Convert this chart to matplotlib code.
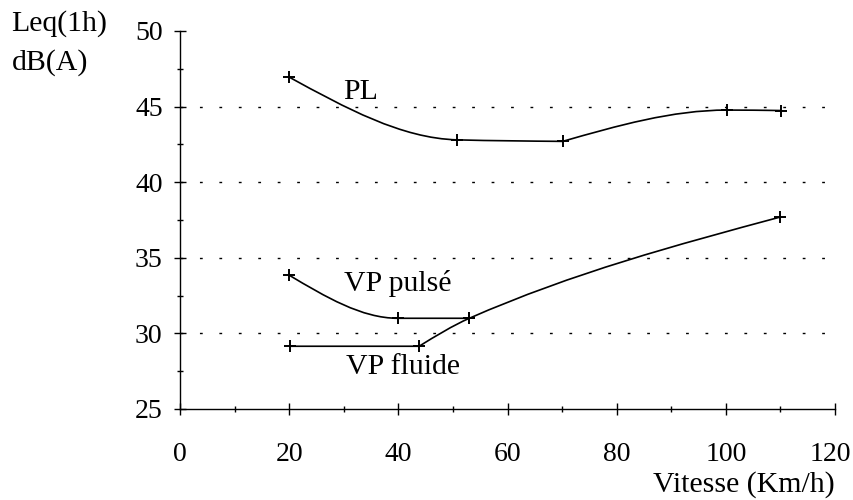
import matplotlib
matplotlib.use("Agg")
import matplotlib.pyplot as plt
from matplotlib.path import Path
from matplotlib.patches import PathPatch
from matplotlib.ticker import MultipleLocator
from matplotlib.transforms import ScaledTranslation

# ---- data ----
pl_x = [20, 50.8, 70.1, 100.2, 110.1]
pl_y = [46.95, 42.8, 42.7, 44.77, 44.74]
pulse_x = [20, 39.9, 53.0]
pulse_y = [33.85, 31.0, 31.0]
fluide_x = [20.1, 43.8, 53.0, 110.0]
fluide_y = [29.15, 29.15, 31.0, 37.7]

series_labels = ["PL", "VP pulsé", "VP fluide"]
x_ticks = [0, 20, 40, 60, 80, 100, 120]
y_ticks = [25, 30, 35, 40, 45, 50]
grid_levels = [30, 35, 40, 45]

FS = 21.5      # labels
TFS = 20       # tick labels
plt.rcParams['font.family'] = ['Liberation Serif', 'DejaVu Serif']

fig = plt.figure(figsize=(8.54, 5.0), dpi=100)
ax = fig.add_axes([0.2108, 0.182, 0.7670, 0.756])
ax.set_xlim(0, 120)
ax.set_ylim(25, 50)


def pchip_path(xs, ys):
    """Shape-preserving cubic drawn as Bezier segments through the points."""
    n = len(xs)
    h = [xs[i + 1] - xs[i] for i in range(n - 1)]
    d = [(ys[i + 1] - ys[i]) / h[i] for i in range(n - 1)]
    m = [0.0] * n
    for i in range(1, n - 1):
        if d[i - 1] * d[i] <= 0:
            m[i] = 0.0
        else:
            w1 = 2 * h[i] + h[i - 1]
            w2 = h[i] + 2 * h[i - 1]
            m[i] = (w1 + w2) / (w1 / d[i - 1] + w2 / d[i])
    if n == 2:
        m[0] = m[1] = d[0]
    else:
        m[0] = 1.5 * d[0] - 0.5 * m[1]
        m[-1] = 1.5 * d[-1] - 0.5 * m[-2]
    verts = [(xs[0], ys[0])]
    codes = [Path.MOVETO]
    for i in range(n - 1):
        c1 = (xs[i] + h[i] / 3, ys[i] + m[i] * h[i] / 3)
        c2 = (xs[i + 1] - h[i] / 3, ys[i + 1] - m[i + 1] * h[i] / 3)
        verts += [c1, c2, (xs[i + 1], ys[i + 1])]
        codes += [Path.CURVE4] * 3
    return Path(verts, codes)


def draw_curve(xs, ys, pieces):
    for a, b in pieces:
        ax.add_patch(PathPatch(pchip_path(xs[a:b + 1], ys[a:b + 1]),
                               facecolor='none', edgecolor='black',
                               lw=1.2, zorder=3))
    ax.plot(xs, ys, linestyle='none', marker='+', color='black',
            markersize=8, markeredgewidth=1.4, zorder=4)


draw_curve(pl_x, pl_y, [(0, 2), (2, 4)])
draw_curve(pulse_x, pulse_y, [(0, 2)])
draw_curve(fluide_x, fluide_y, [(0, 1), (1, 3)])

for g in grid_levels:
    ax.axhline(g, color='black', lw=1.0, linestyle=(0, (2, 12)), zorder=1)

ax.text(33.0, 45.95, series_labels[0], ha='center', va='center', fontsize=FS)
ax.text(39.9, 33.3, series_labels[1], ha='center', va='center', fontsize=FS)
ax.text(40.8, 27.75, series_labels[2], ha='center', va='center', fontsize=FS)

for s in ['top', 'right']:
    ax.spines[s].set_visible(False)
for s in ['left', 'bottom']:
    ax.spines[s].set_linewidth(1.0)

ax.set_xticks(x_ticks)
ax.set_yticks(y_ticks)
ax.xaxis.set_minor_locator(MultipleLocator(10))
ax.yaxis.set_minor_locator(MultipleLocator(2.5))
ax.tick_params(axis='both', which='major', direction='inout', length=9,
               width=1.0, labelsize=TFS)
ax.tick_params(axis='both', which='minor', direction='inout', length=4,
               width=1.0)
ax.tick_params(axis='x', which='major', pad=19)
ax.tick_params(axis='y', which='major', pad=8)

# nudge the last x tick label so it stays inside the image
last = ax.get_xticklabels()[-1]
last.set_transform(last.get_transform() +
                   ScaledTranslation(-5 / 100, 0, fig.dpi_scale_trans))

fig.text(835 / 854, 1 - 485 / 500, "Vitesse (Km/h)", ha='right', va='center',
         fontsize=FS)
fig.text(11 / 854, 1 - 24 / 500, "Leq(1h)", ha='left', va='center', fontsize=FS)
fig.text(12 / 854, 1 - 63 / 500, "dB(A)", ha='left', va='center', fontsize=FS)

fig.savefig("out.png", dpi=100)
